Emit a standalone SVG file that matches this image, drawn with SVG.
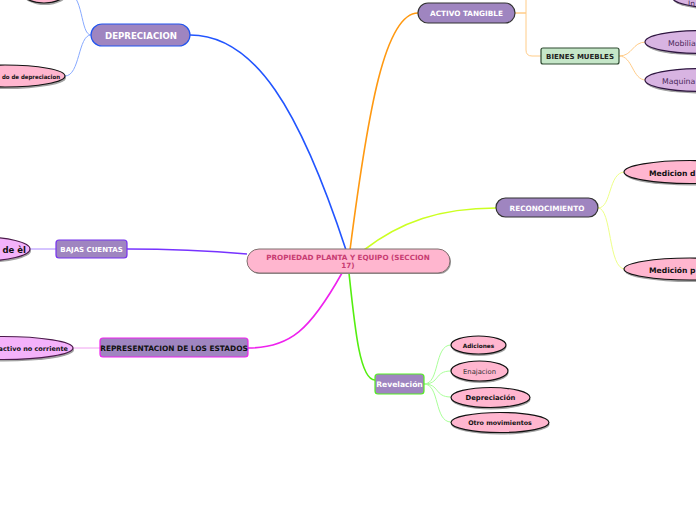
<svg xmlns="http://www.w3.org/2000/svg" width="696" height="520" viewBox="0 0 696 520">
<style>
text{font-family:"DejaVu Sans","Verdana",sans-serif;text-anchor:middle}
.main{fill:#9f85c0}
.lbl{fill:#fff;font-weight:bold}
.pk{fill:#ffb6cf;stroke:#111;stroke-width:1.2}
.mg{fill:#f4b2fa;stroke:#4a1a4a;stroke-width:1.2}
.vi{fill:#d8b4e2;stroke:#2e1640;stroke-width:1.2}
.sh{fill:#555;opacity:0.55}
.c{fill:none}
.st{text-anchor:start}
.en{text-anchor:end}
</style>
<rect width="696" height="520" fill="#fff"/>
<g id="connectors">
  <path class="c" d="M190,35 C255,35 300,110 346,250" stroke="#2255ff" stroke-width="1.6"/>
  <path class="c" d="M350,250 C368,110 385,13 418,13" stroke="#ff9911" stroke-width="1.6"/>
  <path class="c" d="M364,250 C400,222 440,208 496,208" stroke="#ccff22" stroke-width="1.6"/>
  <path class="c" d="M247,254 C200,250 170,249 127,249" stroke="#7733ff" stroke-width="1.6"/>
  <path class="c" d="M342,273 C310,330 290,348 248,348" stroke="#ee22ee" stroke-width="1.6"/>
  <path class="c" d="M349,273 C355,330 360,380 375,380" stroke="#55ee11" stroke-width="1.6"/>
  <path class="c" d="M91,35 C80,35 84,-8 66,-8" stroke="#88aaff"/>
  <path class="c" d="M91,35 C78,35 80,76 65,76" stroke="#88aaff"/>
  <path class="c" d="M515,13 H526 V-5" stroke="#ffcc88"/>
  <path class="c" d="M515,13 H526 V50 Q526,56 532,56 H541" stroke="#ffcc88"/>
  <path class="c" d="M619,56 C633,56 632,42 646,42" stroke="#ffcc88"/>
  <path class="c" d="M619,56 C633,56 632,80 646,80" stroke="#ffcc88"/>
  <path class="c" d="M598,208 C612,208 608,172 625,172" stroke="#eeff88"/>
  <path class="c" d="M598,208 C612,208 608,269 625,269" stroke="#eeff88"/>
  <path class="c" d="M56,249 H30" stroke="#aa88ff"/>
  <path class="c" d="M100,348 H73" stroke="#f0a0f0"/>
  <path class="c" d="M424,384 C440,384 434,345 451,345" stroke="#aaff99"/>
  <path class="c" d="M424,384 C440,384 434,371 451,371" stroke="#aaff99"/>
  <path class="c" d="M424,384 C440,384 434,397 451,397" stroke="#aaff99"/>
  <path class="c" d="M424,384 C440,384 434,422 451,422" stroke="#aaff99"/>
</g>
<g id="central">
  <rect x="248" y="250" width="203" height="24" rx="12" fill="#999"/>
  <rect x="247" y="249" width="203" height="24" rx="12" fill="#ffb6cf" stroke="#7f6f6f"/>
  <text x="348" y="260" font-size="7.2" font-weight="bold" fill="#c83c72">PROPIEDAD PLANTA Y EQUIPO (SECCION</text>
  <text x="348" y="268" font-size="7.2" font-weight="bold" fill="#c83c72">17)</text>
</g>
<g id="depreciacion">
  <rect class="main" x="91" y="24" width="99" height="22" rx="11" stroke="#2255ee" stroke-width="1.2"/>
  <text class="lbl" x="141" y="38.5" font-size="8.6">DEPRECIACION</text>
</g>
<g id="dep-top">
  <ellipse class="sh" cx="45" cy="-6" rx="22" ry="11"/>
  <ellipse class="pk" cx="44" cy="-8" rx="22" ry="11"/>
</g>
<g id="dep-metodo">
  <ellipse class="sh" cx="6" cy="78" rx="60" ry="11"/>
  <ellipse class="pk" cx="5" cy="76" rx="60" ry="11"/>
  <text class="st" x="2" y="78.5" font-size="5.8" font-weight="bold" fill="#111" textLength="58" lengthAdjust="spacingAndGlyphs">do de depreciacion</text>
</g>
<g id="activo-tangible">
  <rect class="main" x="418" y="3" width="97" height="20" rx="10" stroke="#333" stroke-width="1.2"/>
  <text class="lbl" x="466.5" y="16" font-size="7.3">ACTIVO TANGIBLE</text>
</g>
<g id="inmuebles">
  <ellipse class="sh" cx="721" cy="-1" rx="48" ry="11"/>
  <ellipse class="vi" cx="720" cy="-3" rx="48" ry="11"/>
  <text class="st" x="688" y="6" font-size="7.5" fill="#4a2a5a">In</text>
</g>
<g id="bienes-muebles">
  <rect x="541" y="48" width="78" height="16" rx="2" fill="#c5e6c8" stroke="#2e4a30" stroke-width="1.2"/>
  <text x="580" y="59" font-size="7" font-weight="bold" fill="#222">BIENES MUEBLES</text>
</g>
<g id="mobiliario">
  <ellipse class="sh" cx="701" cy="44" rx="55" ry="11.5"/>
  <ellipse class="vi" cx="700" cy="42" rx="55" ry="11.5"/>
  <text class="st" x="668" y="45.5" font-size="7.8" fill="#4a2a5a">Mobilia</text>
</g>
<g id="maquinaria">
  <ellipse class="sh" cx="701" cy="82" rx="55" ry="11.5"/>
  <ellipse class="vi" cx="700" cy="80" rx="55" ry="11.5"/>
  <text class="st" x="662" y="83.5" font-size="7.8" fill="#4a2a5a">Maquina</text>
</g>
<g id="reconocimiento">
  <rect class="main" x="496" y="198" width="102" height="19" rx="9.5" stroke="#333" stroke-width="1.2"/>
  <text class="lbl" x="547" y="210.8" font-size="7.3">RECONOCIMIENTO</text>
</g>
<g id="medicion-d">
  <ellipse class="sh" cx="691" cy="174" rx="66" ry="11.5"/>
  <ellipse class="pk" cx="690" cy="172" rx="66" ry="11.5"/>
  <text class="st" x="649" y="175.5" font-size="7.6" font-weight="bold" fill="#111">Medicion d</text>
</g>
<g id="medicion-p">
  <ellipse class="sh" cx="691" cy="271" rx="66" ry="11"/>
  <ellipse class="pk" cx="690" cy="269" rx="66" ry="11"/>
  <text class="st" x="649" y="272.5" font-size="7.6" font-weight="bold" fill="#111">Medición p</text>
</g>
<g id="bajas-cuentas">
  <rect class="main" x="56" y="240" width="71" height="18" rx="3" stroke="#7733ee" stroke-width="1.2"/>
  <text class="lbl" x="91.5" y="252" font-size="7">BAJAS CUENTAS</text>
</g>
<g id="bajas-child">
  <ellipse class="sh" cx="-19" cy="251" rx="50" ry="12"/>
  <ellipse class="mg" cx="-20" cy="249" rx="50" ry="12"/>
  <text class="en" x="26" y="252.5" font-size="8.5" font-weight="bold" fill="#111">de èl</text>
</g>
<g id="representacion">
  <rect class="main" x="100" y="338" width="148" height="19" rx="3" stroke="#ee22ee" stroke-width="1.2"/>
  <text x="174" y="351" font-size="7.4" font-weight="bold" fill="#111">REPRESENTACION DE LOS ESTADOS</text>
</g>
<g id="repres-child">
  <ellipse class="sh" cx="4" cy="350" rx="70" ry="11.5"/>
  <ellipse class="mg" cx="3" cy="348" rx="70" ry="11.5"/>
  <text class="en" x="68" y="350.5" font-size="6.5" font-weight="bold" fill="#111">activo no corriente</text>
</g>
<g id="revelacion">
  <rect class="main" x="375" y="374" width="49" height="20" rx="3" stroke="#55ee22" stroke-width="1.2"/>
  <text class="lbl" x="399.5" y="387" font-size="7.6">Revelación</text>
</g>
<g id="adiciones">
  <ellipse class="sh" cx="479" cy="347" rx="27.5" ry="9"/>
  <ellipse class="pk" cx="478.5" cy="345" rx="27.5" ry="9"/>
  <text x="478.5" y="347.5" font-size="5.8" font-weight="bold" fill="#111">Adiciones</text>
</g>
<g id="enajacion">
  <ellipse class="sh" cx="480" cy="373" rx="28.5" ry="10"/>
  <ellipse class="pk" cx="479.5" cy="371" rx="28.5" ry="10"/>
  <text x="479.5" y="373.5" font-size="6.8" fill="#333">Enajacion</text>
</g>
<g id="depreciacion-rev">
  <ellipse class="sh" cx="491" cy="399.5" rx="39.5" ry="10"/>
  <ellipse class="pk" cx="490.5" cy="397.5" rx="39.5" ry="10"/>
  <text x="490.5" y="400" font-size="6.8" font-weight="bold" fill="#111">Depreciación</text>
</g>
<g id="otro-movimientos">
  <ellipse class="sh" cx="500.5" cy="424.5" rx="49" ry="10"/>
  <ellipse class="pk" cx="500" cy="422.5" rx="49" ry="10"/>
  <text x="500" y="425" font-size="6.3" font-weight="bold" fill="#111">Otro movimientos</text>
</g>
</svg>
